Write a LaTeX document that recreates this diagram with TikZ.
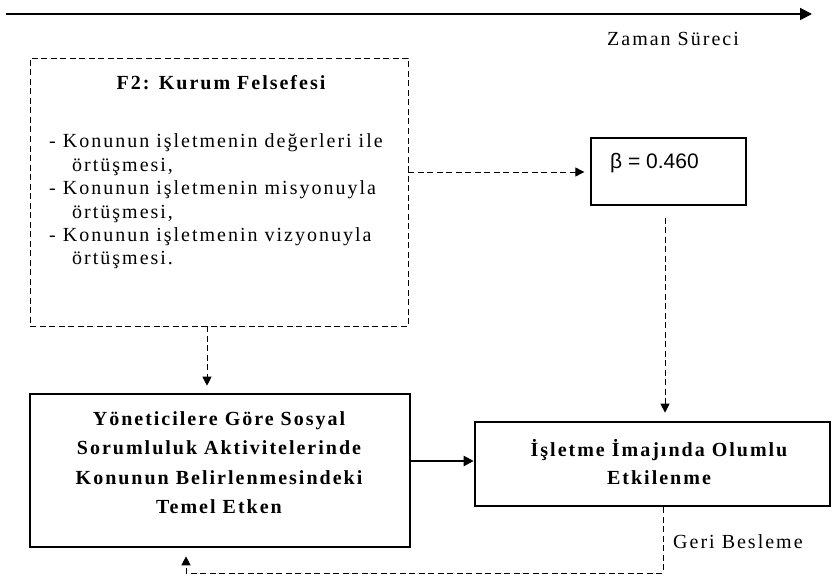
\documentclass[tikz,border=0pt]{standalone}
\usepackage{fontspec}
\setmainfont{Liberation Serif}[LetterSpace=10]
\newfontfamily\betafont{Liberation Sans}
\usetikzlibrary{arrows.meta}
\begin{document}
\begin{tikzpicture}[x=1pt,y=-1pt,
  dsh/.style={dash pattern=on 6pt off 3.5pt, line width=0.9pt},
  tip/.style={-{Triangle[length=9pt,width=9pt]}},
  thickbox/.style={draw, line width=2.6pt, inner sep=0pt},
  regtext/.style={font=\fontsize{20}{23.4}\selectfont},
  boldtext/.style={font=\bfseries\fontsize{20}{29.5}\selectfont, align=center},
]
\useasboundingbox (0,0) rectangle (832,575);
% time axis
\coordinate (t0) at (6,14);
\coordinate (t1) at (812,14);
\draw[line width=1.8pt, -{Triangle[length=12pt,width=12pt]}] (t0) -- (t1);
\node[regtext] (zaman) at (673,39) {Zaman Süreci};
% F2 box
\node[draw, dsh, minimum width=378pt, minimum height=268pt, inner sep=0pt] (f2) at (219,192) {};
\node[font=\bfseries\fontsize{20}{23}\selectfont] (f2t) at (221,83) {F2: Kurum Felsefesi};
\node[regtext, anchor=west, align=left, inner sep=0pt] (f2b) at (49,201.5) {%
- Konunun işletmenin değerleri ile\\
\hspace*{23pt}örtüşmesi,\\
- Konunun işletmenin misyonuyla\\
\hspace*{23pt}örtüşmesi,\\
- Konunun işletmenin vizyonuyla\\
\hspace*{23pt}örtüşmesi.};
% beta box
\node[draw, line width=1.3pt, minimum width=155pt, minimum height=67pt, inner sep=0pt] (beta) at (668.5,171.5) {};
\node[anchor=west, inner sep=0pt, font=\betafont\fontsize{21}{24}\selectfont] (betat) at (610,163) {β = 0.460};
% left box
\node[thickbox, minimum width=380pt, minimum height=153pt] (lb) at (220,470.5) {};
\node[boldtext] (lbt) at (219,462.5) {Yöneticilere Göre Sosyal\\Sorumluluk Aktivitelerinde\\Konunun Belirlenmesindeki\\Temel Etken};
% right box
\node[thickbox, minimum width=355pt, minimum height=84pt] (rb) at (652.5,464) {};
\node[boldtext, font=\bfseries\fontsize{20}{28}\selectfont] (rbt) at (659,462) {İşletme İmajında Olumlu\\Etkilenme};
% connectors
\draw[dsh, tip, shorten >=6pt] (f2.east |- 0,172) -- (beta.west |- 0,172);
\draw[dsh, tip, shorten <=12pt, shorten >=8pt] (beta.south -| 665,0) -- (rb.north -| 665,0);
\draw[dsh, tip, shorten >=7pt] (f2.south -| 207,0) -- (lb.north -| 207,0);
\draw[line width=2.2pt, -{Triangle[length=10pt,width=10pt]}] (lb.east |- 0,461) -- (rb.west |- 0,461);
\coordinate (fb1) at (663,573);
\coordinate (fb2) at (186,573);
\draw[dsh, tip, shorten >=8pt] (rb.south -| 663,0) -- (fb1) -- (fb2) -- (lb.south -| 186,0);
\node[regtext, anchor=west, inner sep=0pt] (geri) at (673,542) {Geri Besleme};
\end{tikzpicture}
\end{document}
